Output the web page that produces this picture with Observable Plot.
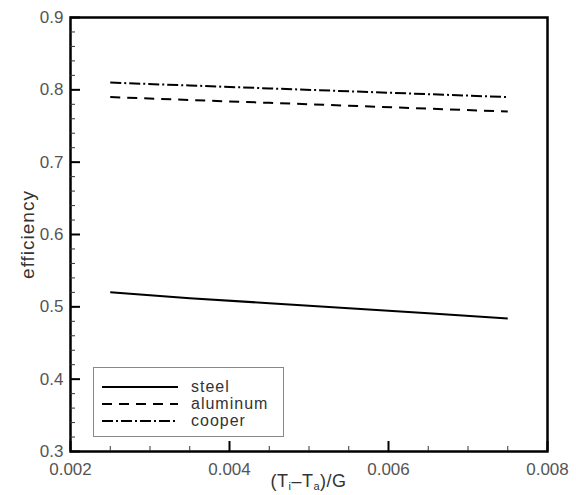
<!DOCTYPE html>
<html>
<head>
<meta charset="utf-8">
<script src="https://cdn.jsdelivr.net/npm/d3@7"></script>
<script src="https://cdn.jsdelivr.net/npm/@observablehq/plot@0.6"></script>
<style>
  html, body { margin: 0; padding: 0; background: #fff; }
</style>
</head>
<body>
<div id="wrap"></div>
<script>
// ---- data ----
const xValues = [0.0025, 0.0035, 0.0045, 0.0055, 0.0065, 0.0075];
const steel    = [0.520, 0.512, 0.505, 0.498, 0.491, 0.484];
const aluminum = [0.790, 0.786, 0.782, 0.778, 0.774, 0.770];
const cooper   = [0.810, 0.806, 0.802, 0.798, 0.794, 0.790];
const seriesNames = ["steel", "aluminum", "cooper"];
const xMajorTicks = [0.002, 0.004, 0.006, 0.008];
const yMajorTicks = [0.3, 0.4, 0.5, 0.6, 0.7, 0.8, 0.9];
const yLabel = "efficiency";

// ---- styles ----
const dashes = { steel: null, aluminum: "10,7", cooper: "11,3,2,3" };
const seriesVals = { steel, aluminum, cooper };
const rows = seriesNames.flatMap(name => xValues.map((x, i) => ({ name, x, y: seriesVals[name][i] })));

const W = 576, H = 495, mL = 70, mR = 29, mT = 17, mB = 44;
const innerW = W - mL - mR, innerH = H - mT - mB;
const xMinor = d3.range(0, 13).map(i => 0.002 + i * 0.0005);
const yMinor = d3.range(0, 31).map(i => 0.3 + i * 0.02);

// legend box + x title
function decorations() {
  const g = d3.create("svg:g").attr("font-family", "Liberation Sans, Arial, sans-serif");
  g.append("rect").attr("x", 93.5).attr("y", 367.5).attr("width", 190).attr("height", 69)
    .attr("fill", "#fff").attr("stroke", "#888").attr("stroke-width", 1);
  const rowY = [387, 404, 421];
  seriesNames.forEach((name, i) => {
    g.append("line").attr("x1", 102).attr("x2", 178).attr("y1", rowY[i]).attr("y2", rowY[i])
      .attr("stroke", "#000").attr("stroke-width", 2)
      .attr("stroke-dasharray", dashes[name] || null);
    g.append("text").attr("x", 191).attr("y", rowY[i]).attr("dy", "0.32em")
      .attr("text-anchor", "start")
      .attr("font-size", 16).attr("letter-spacing", 1).attr("fill", "#333").text(name);
  });
  const t = g.append("text").attr("x", mL + innerW / 2).attr("y", 487)
    .attr("text-anchor", "middle").attr("font-size", 18).attr("fill", "#333").attr("letter-spacing", 0.5);
  t.append("tspan").text("(T");
  t.append("tspan").attr("font-size", 11).attr("dy", 3).text("i");
  t.append("tspan").attr("dy", -3).text("–T");
  t.append("tspan").attr("font-size", 11).attr("dy", 3).text("a");
  t.append("tspan").attr("dy", -3).text(")/G");
  return g.node();
}

const lineMarks = seriesNames.map(name =>
  Plot.line(rows.filter(d => d.name === name), {
    x: "x", y: "y", stroke: "#000", strokeWidth: 2,
    strokeDasharray: dashes[name], strokeLinecap: "butt"
  })
);

const chart = Plot.plot({
  width: W, height: H,
  marginLeft: mL, marginRight: mR, marginTop: mT, marginBottom: mB,
  style: { fontFamily: "Liberation Sans, Arial, sans-serif", background: "#fff", overflow: "visible" },
  x: { domain: [0.002, 0.008] },
  y: { domain: [0.3, 0.9] },
  marks: [
    Plot.axisX({ ticks: xMajorTicks, tickSize: 0, tickPadding: 11, tickFormat: d3.format(".3f"), fontSize: 17, color: "#555", label: null }),
    Plot.axisY({ ticks: yMajorTicks, tickSize: 0, tickPadding: 7, tickFormat: d3.format(".1f"), fontSize: 17, color: "#555", label: null }),
    Plot.text([yLabel], { text: d => d, frameAnchor: "left", textAnchor: "middle", dx: -43, rotate: -90, fontSize: 19, fill: "#333" }),
    ...lineMarks,
    decorations,
    Plot.frame({ stroke: "#000", strokeWidth: 2.5 }),
    Plot.tickX(xMinor, { x: d => d, insetTop: innerH - 5, stroke: "#333", strokeWidth: 1 }),
    Plot.tickX(xMajorTicks, { x: d => d, insetTop: innerH - 10, stroke: "#000", strokeWidth: 2 }),
    Plot.tickY(yMinor, { y: d => d, insetRight: innerW - 5, stroke: "#333", strokeWidth: 1 }),
    Plot.tickY(yMajorTicks, { y: d => d, insetRight: innerW - 10, stroke: "#000", strokeWidth: 2 })
  ]
});
chart.querySelectorAll("text").forEach(t => { if (t.textContent === yLabel) t.setAttribute("letter-spacing", "1"); });
document.getElementById("wrap").appendChild(chart);
</script>
</body>
</html>
